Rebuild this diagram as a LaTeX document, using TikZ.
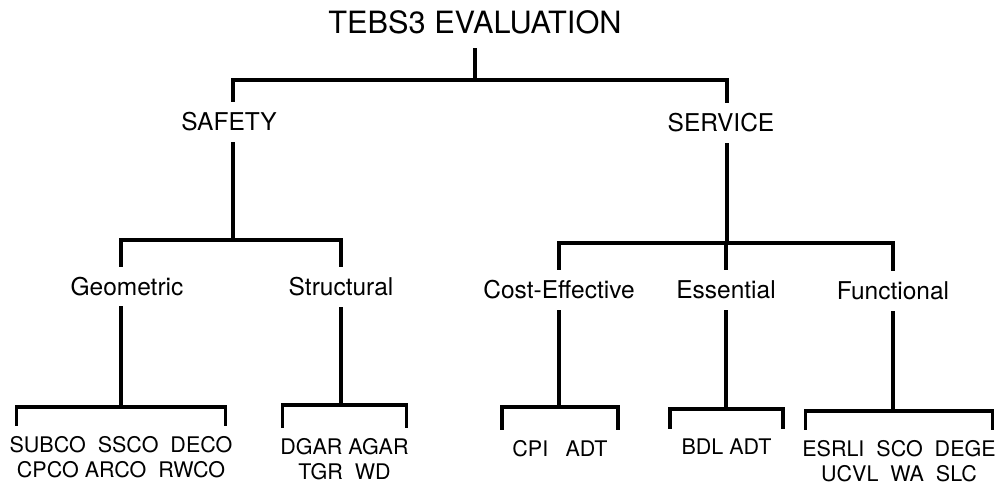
\documentclass[tikz,border=0pt]{standalone}
\usepackage{fontspec}
\setmainfont{TeX Gyre Heros}
\usepackage{tikz}
\usetikzlibrary{arrows.meta, calc, positioning}

\tikzset{
  link/.style={line width=3.2pt, line cap=rect},
  toplabel/.style={inner sep=0pt, outer xsep=0pt, outer ysep=17pt, text height=22pt, text depth=0pt,
    font=\fontsize{30.7}{34}\selectfont},
  midlabel/.style={inner sep=0pt, outer xsep=0pt, outer ysep=12.5pt, text height=17.6pt, text depth=0pt,
    font=\fontsize{24.5}{28}\selectfont},
  leaflabel/.style={anchor=north, align=center, inner sep=0pt, outer xsep=0pt, outer ysep=12pt,
    font=\fontsize{21.5}{25}\selectfont}
}

\begin{document}
\begin{tikzpicture}[x=1pt, y=-1pt]
  \useasboundingbox (0,0) rectangle (997,485);

  % top
  \node[toplabel] (tebs) at (475,22) {TEBS3 EVALUATION};
  \node[midlabel] (safety) at (229,122) {SAFETY};
  \node[midlabel] (service) at (721,123) {SERVICE};
  \coordinate (bar0) at (475,80);
  \draw[link] (tebs.south) -- (bar0);
  \draw[link] ([xshift=4pt]safety.north) |- (bar0) -| ([xshift=6pt]service.north);

  % second level
  \node[midlabel] (geo) at (127,286.5) {Geometric};
  \node[midlabel] (struc) at (341,287) {Structural};
  \node[midlabel] (cost) at (559,290) {Cost-Effective};
  \node[midlabel] (essent) at (726,290) {Essential};
  \node[midlabel] (funct) at (893,291) {Functional};
  \coordinate (bar1) at (233,240);
  \coordinate (bar2) at (727,243);
  \draw[link] ([xshift=4pt]safety.south) -- (bar1);
  \draw[link] ([xshift=-6pt]geo.north) |- (bar1) -| (struc.north);
  \draw[link] ([xshift=6pt]service.south) -- (bar2);
  \draw[link] (cost.north) |- (bar2) -| (funct.north);
  \draw[link] (essent.north) -- (essent.north |- bar2);

  % leaves
  \node[leaflabel, outer xsep=-7pt] (geoleaf) at (121,424) {SUBCO\ \ SSCO\ \ DECO\\CPCO\ ARCO\ \ RWCO};
  \node[leaflabel, outer xsep=-2pt] (strucleaf) at (344.5,426) {DGAR\ AGAR\\TGR\ \ WD};
  \node[leaflabel, minimum width=116pt] (costleaf) at (560,428) {CPI\hspace{0.8em}ADT};
  \node[leaflabel, minimum width=113pt] (essentleaf) at (726.5,427) {BDL\ ADT};
  \node[leaflabel, outer xsep=-3pt] (functleaf) at (899,428) {ESRLI\ \ SCO\ \ DEGE\\UCVL\ \ WA\ \ SLC};
  \coordinate (bar3) at (121,407);
  \coordinate (bar4) at (341,405);
  \coordinate (bar5) at (559,407);
  \coordinate (bar6) at (726,409);
  \coordinate (bar7) at (893,411);
  \draw[link] ([xshift=-6pt]geo.south) -- (bar3);
  \draw[link] (geoleaf.north west) |- (bar3) -| (geoleaf.north east);
  \draw[link] (struc.south) -- (bar4);
  \draw[link] (strucleaf.north west) |- (bar4) -| (strucleaf.north east);
  \draw[link] (cost.south) -- (bar5);
  \draw[link] (costleaf.north west) |- (bar5) -| (costleaf.north east);
  \draw[link] (essent.south) -- (bar6);
  \draw[link] (essentleaf.north west) |- (bar6) -| (essentleaf.north east);
  \draw[link] (funct.south) -- (bar7);
  \draw[link] (functleaf.north west) |- (bar7) -| (functleaf.north east);
\end{tikzpicture}
\end{document}
